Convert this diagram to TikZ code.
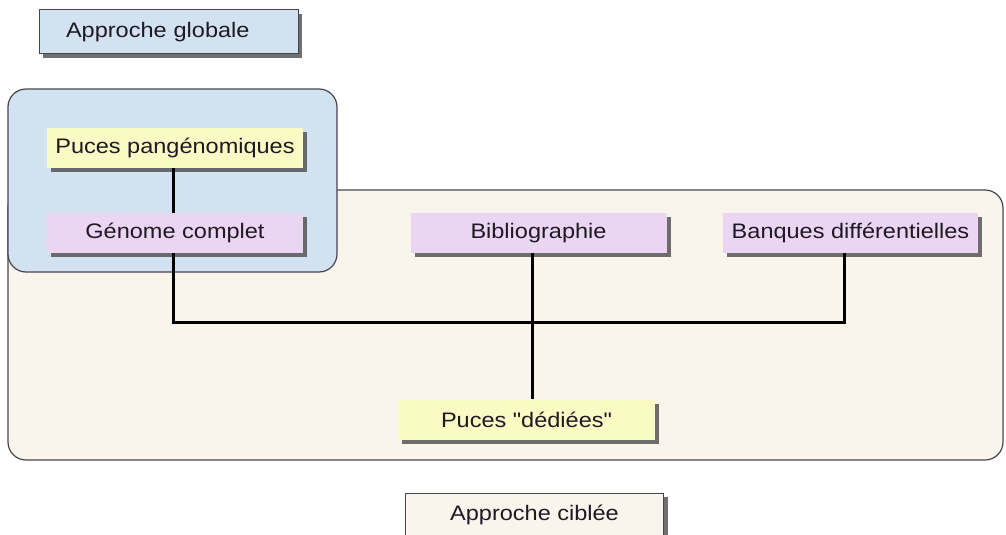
\documentclass[tikz,border=0pt]{standalone}
\usepackage{fontspec}
\setmainfont{Liberation Sans}[FakeStretch=1.12, Ligatures=TeXOff]
\usetikzlibrary{shadows,calc}
\definecolor{bluebg}{RGB}{210,226,240}
\definecolor{beigebg}{RGB}{249,245,237}
\definecolor{yel}{RGB}{250,250,196}
\definecolor{pink}{RGB}{234,213,242}
\definecolor{edge}{RGB}{70,70,80}
\definecolor{txt}{RGB}{30,25,35}
\tikzset{
  card/.style={minimum height=40pt, minimum width=256pt, inner sep=0pt, text=txt,
    font=\fontsize{21pt}{25pt}\selectfont,
    drop shadow={shadow xshift=4pt, shadow yshift=-4pt, fill=black!70, opacity=0.8}},
  yelcard/.style={card, fill=yel},
  pinkcard/.style={card, fill=pink},
  labelbox/.style={card, draw=edge, line width=1pt, minimum height=44pt, minimum width=258pt},
  zone/.style={draw=edge, line width=1.2pt, rounded corners=18pt},
  link/.style={draw=black, line width=3pt}
}
\begin{document}
\begin{tikzpicture}[x=1pt, y=-1pt]
\useasboundingbox (0,0) rectangle (1006,535);
\fill[white] (0,0) rectangle (1006,535);
% zones
\path[zone, fill=beigebg] (8,190) rectangle (1003,460);
\path[zone, fill=bluebg] (8,89) rectangle (337,272);
% labels
\node[labelbox, fill=bluebg, text width=205pt, align=left, inner xsep=27pt, minimum width=259pt] (glob) at (168.5,32) {Approche globale};
\node[labelbox, fill=beigebg] (cib) at (534.5,515) {Approche ciblée};
% cards
\node[yelcard] (pang) at (175,147.5) {Puces pangénomiques};
\node[pinkcard] (gen) at (175,233) {Génome complet};
\node[pinkcard] (bib) at (538.5,233) {Bibliographie};
\node[pinkcard, minimum width=255pt] (banq) at (850.5,232.5) {Banques différentielles};
\node[yelcard, minimum width=257pt] (ded) at (526.5,419.5) {Puces "dédiées"};
% connectors
\coordinate (j) at (532,322);
\draw[link] ([xshift=-2pt]pang.south) -- ([xshift=-2pt]gen.north);
\draw[link] ([xshift=-2pt]gen.south) |- (j) -| ([xshift=-6.5pt]banq.south);
\draw[link] ([xshift=-6.5pt]bib.south) -- ([xshift=-6.5pt]bib.south |- ded.north);
\end{tikzpicture}
\end{document}
